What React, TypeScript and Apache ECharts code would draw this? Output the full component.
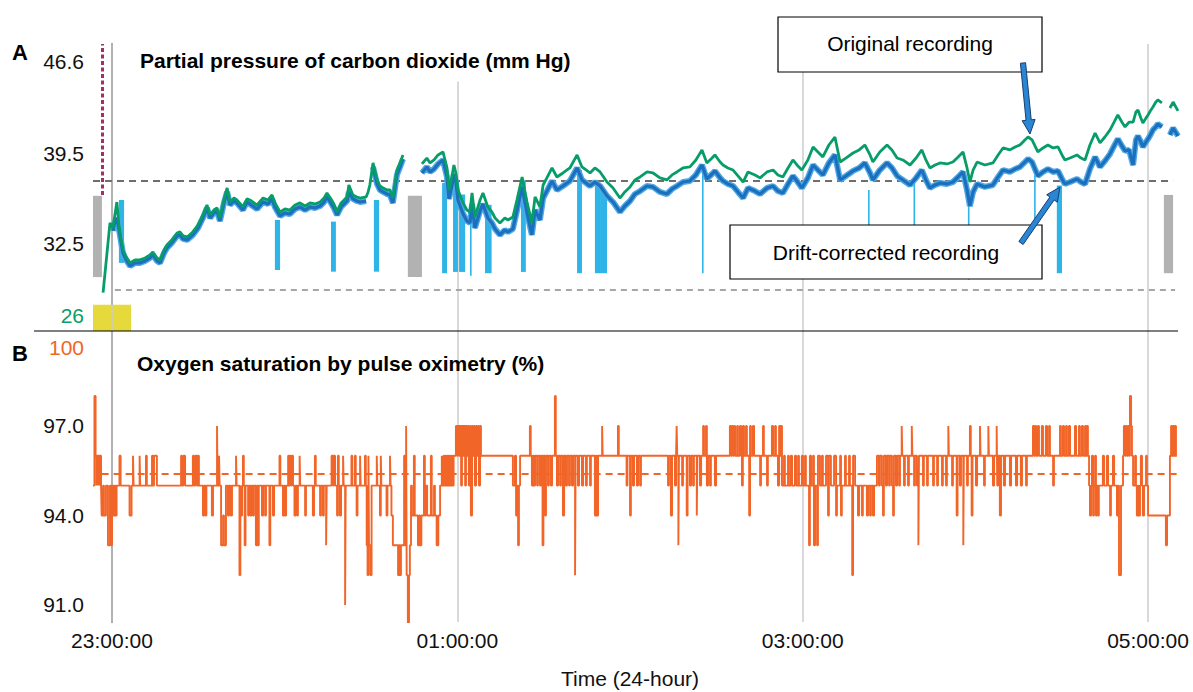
import React, { useEffect, useRef } from 'react';
import * as echarts from 'echarts';

// ---------- DATA (time = minutes relative to 23:00) ----------
const timeTickValues = [0, 120, 240, 360];
const co2TickValues = [26, 32.5, 39.5, 46.6];
const spo2TickValues = [91, 94, 97, 100];

// [minute, original PtcCO2, drift-corrected PtcCO2]
const co2Samples: (number | null)[][] = [
  [-3.1, 28.7, null], [-0.7, 34.1, null], [0.3, 33.71, 33.48], [1.0, 34.72, 34.17], [1.7, 35.72, 34.48],
  [2.4, 33.94, 33.63], [3.1, 32.93, 32.7], [3.8, 32.0, 31.77], [4.9, 31.46, 31.23], [6.3, 31.0, 30.76],
  [8.0, 31.23, 31.0], [9.7, 31.23, 31.0], [11.5, 31.38, 31.15], [13.2, 31.62, 31.38], [14.2, 31.85, 31.62],
  [15.6, 31.38, 31.15], [16.7, 31.23, 31.0], [18.1, 32.0, 31.77], [19.1, 32.39, 32.16], [20.8, 32.78, 32.55],
  [22.6, 33.32, 33.09], [23.6, 33.4, 33.17], [24.7, 33.09, 32.86], [26.1, 33.01, 32.78], [28.1, 33.4, 33.17],
  [29.9, 33.94, 33.71], [31.6, 34.72, 34.48], [33.0, 35.49, 35.26], [34.1, 34.72, 34.48], [35.4, 35.1, 34.87],
  [36.5, 35.26, 35.03], [37.5, 34.48, 34.25], [38.9, 35.88, 35.65], [40.0, 36.81, 36.5], [41.0, 35.72, 35.49],
  [42.4, 36.03, 35.8], [43.4, 35.88, 35.65], [45.5, 35.34, 35.1], [46.9, 35.96, 35.72], [47.9, 35.88, 35.57],
  [50.4, 35.49, 35.18], [52.5, 36.03, 35.72], [54.2, 35.88, 35.57], [55.6, 36.27, 35.96], [56.6, 35.65, 35.34],
  [58.4, 34.95, 34.64], [60.1, 35.18, 34.87], [61.8, 35.1, 34.79], [63.6, 35.49, 35.18], [65.3, 35.65, 35.34],
  [67.1, 35.41, 35.1], [68.8, 35.65, 35.34], [70.5, 35.57, 35.26], [72.3, 35.72, 35.41], [73.7, 36.03, 35.72],
  [74.7, 36.42, 36.11], [76.1, 35.96, 35.65], [77.1, 35.57, 35.26], [78.2, 34.95, 34.72], [79.6, 35.65, 35.34],
  [81.7, 36.11, 35.8], [82.3, 37.04, 36.5], [83.7, 36.27, 35.96], [85.1, 36.11, 35.8], [86.2, 36.03, 35.72],
  [88.3, 36.11, 35.8], [89.0, 36.5, null], [89.6, 37.04, null], [90.7, 38.75, 38.44], [92.1, 37.43, 37.12],
  [93.1, 36.96, 36.65], [94.2, 36.81, 36.5], [95.6, 36.65, 36.34], [96.6, 36.65, 36.27], [97.6, 36.03, 35.65],
  [99.0, 38.2, 37.82], [100.1, 38.75, 38.44], [101.1, 39.37, 39.06], [104.5, null, null],
  [107.7, 38.67, 37.97], [109.4, 39.13, 38.44], [110.5, 38.75, 38.05], [111.9, 38.98, 38.28], [113.3, 39.37, 38.67],
  [115.0, 39.6, 38.98], [116.4, 38.36, 37.66], [117.1, 36.65, 35.96], [118.1, 37.66, 36.96], [118.8, 38.59, 37.89],
  [119.5, 37.97, 37.27], [120.2, 36.65, 35.88], [122.0, 35.65, 34.79], [123.3, 35.1, 34.25], [124.4, 34.95, 34.1],
  [125.1, 36.42, 35.57], [126.1, 34.56, 33.71], [127.9, 35.88, 35.03], [128.9, 36.42, 35.57], [130.6, 35.34, 34.48],
  [132.0, 34.95, 34.1], [133.1, 34.48, 33.63], [134.8, 34.1, 33.17], [136.5, 34.48, 33.55], [137.6, 34.33, 33.4],
  [139.3, 34.56, 33.63], [140.7, 35.88, 35.03], [142.5, 37.66, 36.89], [144.2, 35.72, 34.87], [145.9, 34.1, 33.17],
  [147.0, 36.11, 35.1], [148.7, 35.34, 34.33], [149.8, 37.04, 36.03], [151.1, 37.59, 36.57], [152.9, 38.36, 37.35],
  [154.6, 37.66, 36.65], [156.7, 37.97, 36.96], [159.1, 38.36, 37.35], [161.6, 39.37, 38.36], [163.3, 38.44, 37.43],
  [166.1, 37.97, 36.96], [167.8, 38.36, 37.27], [169.6, 38.05, 36.96], [172.0, 37.27, 36.19], [174.1, 36.81, 35.72],
  [176.5, 36.03, 34.95], [178.2, 36.5, 35.41], [180.0, 36.89, 35.8], [181.7, 37.43, 36.34], [183.5, 37.66, 36.57],
  [185.9, 38.05, 36.96], [188.0, 37.97, 36.89], [190.4, 37.59, 36.5], [192.8, 37.43, 36.34], [194.6, 37.82, 36.73],
  [196.3, 38.05, 36.96], [198.4, 38.36, 37.27], [200.8, 38.44, 37.35], [202.9, 38.98, 37.82], [205.0, 39.76, 38.59],
  [206.7, 38.75, 37.51], [208.5, 39.13, 37.89], [209.5, 39.37, 38.13], [211.3, 38.82, 37.59], [212.3, 38.59, 37.35],
  [214.0, 38.36, 37.12], [215.8, 38.2, 36.96], [217.5, 37.74, 36.5], [219.3, 37.27, 36.03], [221.0, 38.05, 36.81],
  [223.4, 37.82, 36.57], [225.2, 37.59, 36.34], [227.6, 38.05, 36.81], [229.7, 38.2, 36.96], [231.4, 37.82, 36.57],
  [233.1, 37.66, 36.42], [234.9, 38.36, 37.12], [236.6, 38.98, 37.74], [238.0, 38.59, 37.35], [239.7, 38.2, 36.81],
  [241.8, 38.98, 37.59], [243.6, 39.99, 38.59], [245.3, 39.6, 38.2], [247.0, 39.21, 37.82], [249.1, 40.14, 38.75],
  [251.2, 40.76, 39.37], [253.0, 38.82, 37.43], [255.0, 39.13, 37.74], [257.5, 39.52, 38.13], [259.6, 39.76, 38.36],
  [261.6, 40.14, 38.75], [263.4, 39.37, 37.97], [264.4, 38.82, 37.43], [266.8, 39.6, 38.2], [269.3, 40.14, 38.75],
  [271.0, 39.76, 38.36], [272.8, 39.13, 37.74], [274.8, 38.98, 37.43], [277.3, 38.59, 37.04], [279.4, 39.13, 37.59],
  [281.4, 39.76, 38.2], [282.8, 38.98, 37.43], [284.2, 38.36, 36.81], [286.0, 38.59, 37.04], [287.7, 38.75, 37.2],
  [290.1, 38.67, 37.12], [292.2, 38.82, 37.27], [294.0, 39.21, 37.66], [295.7, 39.6, 38.05], [297.1, 38.36, 36.65],
  [298.1, 37.27, 35.41], [299.2, 38.2, 36.5], [300.6, 38.82, 37.12], [303.3, 38.59, 36.89], [306.1, 38.75, 37.04],
  [307.9, 39.37, 37.66], [309.6, 39.91, 38.2], [312.0, 39.76, 38.05], [313.8, 39.99, 38.28], [315.5, 40.14, 38.44],
  [317.2, 40.53, 38.82], [318.3, 40.76, 39.06], [319.7, 40.53, 38.82], [321.7, 39.6, 37.74], [323.5, 39.91, 38.05],
  [325.2, 40.14, 38.28], [327.0, 39.91, 38.05], [328.7, 39.99, 38.13], [330.1, 39.37, 37.51], [331.1, 38.98, 37.12],
  [332.9, 39.13, 37.27], [335.3, 39.37, 37.51], [336.7, 39.13, 37.27], [338.1, 38.98, 37.12], [339.8, 40.14, 38.28],
  [341.6, 41.07, 39.21], [343.3, 40.3, 38.44], [345.0, 40.76, 38.9], [346.8, 41.31, 39.45], [348.2, 41.92, 40.07],
  [349.5, 42.47, 40.61], [350.9, 41.92, 40.07], [352.0, 41.54, 39.68], [353.4, 41.92, 39.76], [354.8, 41.92, 38.59],
  [355.8, 42.7, 40.53], [356.5, 42.86, 40.84], [357.5, 42.24, 40.38], [358.2, 41.85, 39.99], [359.3, 42.24, 40.38],
  [360.0, 42.47, 40.61], [361.0, 42.86, 41.0], [361.7, 43.09, 41.31], [362.7, 43.47, 41.54], [363.4, 43.63, 41.77],
  [364.8, 43.4, 41.54], [366.2, null, null], [367.6, 43.01, 40.92], [368.7, 43.47, 41.46], [370.4, 42.78, 40.84],
];

// [minute, SpO2 %] – step changes
const spo2Steps: number[][] = [
  [-6.6,95],[-6.1,98],[-5.7,96],[-5.4,95],[-5.2,96],[-4.9,95],[-4.7,96],[-4.3,95],[-4.2,96],[-3.8,95],[-3.6,94],[-3.1,95],[-2.8,94],[-2.1,95],[-1.4,93],[-0.7,95],[-0.3,93],[0.0,95],[0.5,94],[0.9,95],[1.2,94],[1.6,95],[2.6,96],[3.0,95],[6.1,94],[6.8,95],[7.3,96],[7.5,95],[9.6,96],[9.8,95],[11.8,96],[12.1,95],[13.9,96],[14.2,95],[14.6,96],[15.6,95],[24.0,96],[24.3,95],[24.8,96],[25.4,95],[28.1,96],[28.5,95],[29.0,96],[29.5,95],[29.9,96],[30.2,95],[31.6,94],[32.0,95],[32.5,94],[32.8,95],[34.7,94],[35.1,95],[36.5,97],[36.7,95],[37.2,96],[37.4,95],[37.9,93],[38.6,94],[38.9,93],[39.6,95],[40.3,94],[40.7,95],[41.3,94],[41.7,95],[43.1,96],[43.3,95],[44.3,92],[44.6,95],[44.8,94],[45.2,95],[45.5,96],[45.8,95],[46.1,93],[46.4,95],[47.3,94],[47.6,95],[48.1,94],[48.5,95],[49.0,94],[49.3,95],[50.0,93],[50.4,95],[50.7,93],[51.0,95],[52.1,94],[52.5,95],[53.2,94],[53.5,95],[54.7,93],[55.0,95],[55.9,94],[56.3,95],[58.2,96],[58.5,95],[59.4,94],[59.8,95],[60.1,94],[60.5,95],[61.2,96],[61.5,95],[61.8,96],[62.2,95],[62.5,96],[62.9,95],[63.4,94],[63.8,95],[64.3,94],[64.6,95],[65.2,96],[65.4,95],[67.1,94],[67.4,95],[69.8,94],[70.2,95],[70.5,96],[70.8,95],[72.3,94],[72.6,95],[73.3,94],[73.6,95],[74.4,93],[74.6,95],[76.3,96],[76.8,95],[77.1,96],[77.5,95],[78.2,94],[78.5,96],[78.8,95],[79.2,94],[79.6,95],[80.3,96],[80.5,95],[81.0,91],[81.2,95],[83.2,96],[83.5,95],[84.4,96],[84.7,95],[85.0,94],[85.3,95],[86.2,96],[86.4,95],[87.9,96],[88.2,95],[88.5,93],[88.8,92],[89.1,96],[89.3,93],[89.8,92],[90.2,95],[92.0,96],[92.2,95],[93.1,94],[93.4,96],[93.6,95],[95.4,94],[95.7,95],[96.6,96],[96.8,95],[97.1,94],[97.6,93],[99.4,92],[99.7,93],[100.1,92],[100.4,93],[101.5,96],[101.8,93],[102.2,97],[102.4,92],[102.8,90],[103.2,92],[103.5,93],[103.9,95],[104.2,94],[104.9,96],[105.2,94],[106.3,93],[106.7,94],[107.0,93],[107.5,94],[108.4,96],[108.7,94],[109.1,95],[109.5,94],[110.8,96],[111.1,94],[111.9,95],[112.2,94],[112.8,93],[113.4,94],[114.0,95],[114.6,96],[114.8,95],[115.2,96],[115.5,95],[115.9,96],[116.2,95],[116.6,96],[116.9,95],[117.3,96],[117.6,95],[118.0,96],[118.3,95],[118.7,96],[119.5,97],[119.9,96],[120.2,97],[120.6,96],[120.9,97],[121.3,95],[121.6,97],[122.0,96],[122.3,97],[122.7,95],[123.0,97],[123.3,96],[123.7,97],[124.0,95],[124.4,97],[124.7,94],[125.1,97],[125.4,96],[125.8,97],[126.1,95],[126.5,97],[126.8,96],[127.2,97],[127.5,95],[127.9,97],[128.2,96],[139.3,95],[140.0,96],[140.4,94],[140.7,95],[141.1,93],[141.4,95],[141.8,96],[145.2,97],[145.5,96],[145.9,95],[146.3,96],[146.6,95],[147.0,96],[147.7,95],[148.0,96],[148.7,95],[149.1,96],[149.6,93],[149.9,96],[150.5,94],[150.8,96],[151.5,95],[151.8,96],[152.5,95],[152.9,96],[153.9,98],[154.2,96],[154.6,95],[155.0,96],[155.7,95],[156.0,96],[156.7,94],[157.1,96],[157.7,95],[158.1,96],[158.8,95],[159.1,96],[159.8,95],[160.2,96],[160.9,92],[161.1,96],[161.9,95],[162.3,96],[163.3,95],[163.7,96],[164.7,95],[165.0,96],[166.1,95],[166.4,96],[167.8,94],[168.2,96],[168.5,94],[168.9,96],[170.3,97],[170.5,96],[175.8,97],[176.1,96],[178.8,95],[179.1,96],[180.0,94],[180.3,96],[181.0,95],[181.4,96],[182.4,95],[182.8,96],[183.5,95],[183.8,96],[193.2,95],[193.5,96],[194.2,94],[194.6,96],[195.6,95],[196.0,96],[196.2,97],[196.4,96],[196.8,93],[197.0,96],[198.1,95],[198.4,96],[199.7,94],[200.0,96],[200.8,95],[201.2,96],[201.9,95],[202.2,96],[203.2,94],[203.4,96],[204.3,95],[204.7,96],[205.4,97],[205.7,96],[206.4,97],[206.7,95],[207.1,96],[207.8,95],[208.1,96],[209.5,95],[209.9,96],[214.7,97],[215.1,96],[215.4,97],[215.8,96],[216.1,97],[216.5,96],[217.2,97],[217.5,96],[218.2,97],[218.6,96],[218.9,95],[219.2,97],[219.6,96],[220.3,97],[220.6,96],[221.4,94],[221.7,97],[222.0,96],[222.7,97],[223.1,96],[225.2,95],[225.5,96],[226.2,97],[226.5,96],[227.6,95],[227.9,96],[229.3,97],[229.7,96],[230.4,97],[230.7,96],[231.4,95],[231.8,97],[232.1,96],[232.4,97],[232.8,95],[233.5,96],[233.8,95],[234.9,96],[235.2,95],[235.9,96],[236.3,95],[237.3,96],[237.7,95],[238.4,96],[238.7,95],[239.7,96],[240.1,95],[240.8,96],[241.1,95],[242.2,93],[242.5,96],[242.9,95],[243.6,96],[243.9,93],[244.3,95],[245.0,93],[245.3,96],[246.0,95],[246.7,96],[247.0,95],[248.1,96],[248.8,94],[249.1,96],[249.8,95],[250.9,96],[251.6,94],[251.9,95],[253.0,96],[253.3,94],[253.6,95],[254.7,96],[255.0,95],[256.1,96],[256.4,95],[257.2,92],[257.5,96],[258.2,95],[259.2,94],[259.6,95],[260.6,94],[260.9,95],[262.3,94],[262.7,95],[263.4,94],[263.7,95],[264.4,94],[264.8,95],[265.8,96],[266.5,95],[266.8,96],[267.5,95],[267.9,94],[268.2,96],[268.9,95],[269.3,96],[270.0,95],[270.3,96],[271.0,95],[271.4,94],[271.7,96],[272.4,95],[272.8,96],[273.5,95],[273.8,96],[274.4,97],[274.6,96],[275.2,95],[275.5,96],[276.6,95],[276.9,96],[277.9,97],[278.1,96],[278.7,95],[279.0,96],[279.7,95],[280.2,93],[280.4,96],[281.8,95],[282.1,96],[283.2,95],[283.5,96],[285.3,95],[285.6,96],[286.7,95],[287.0,96],[288.4,95],[288.7,96],[289.8,95],[290.1,96],[290.6,97],[290.8,96],[291.9,95],[292.2,96],[293.5,94],[293.8,96],[294.6,95],[295.0,96],[295.8,93],[296.0,96],[297.1,95],[297.4,96],[298.1,97],[298.4,96],[298.7,94],[299.0,96],[300.2,95],[300.6,96],[301.6,97],[301.8,96],[303.0,95],[303.3,96],[304.5,97],[304.7,96],[306.1,95],[306.5,96],[307.4,97],[307.6,95],[307.9,96],[308.5,94],[308.9,96],[309.9,95],[310.3,96],[312.0,95],[312.4,96],[314.1,95],[314.5,96],[315.8,95],[316.2,96],[317.6,95],[317.9,96],[320.0,97],[320.4,96],[320.7,97],[321.1,96],[321.7,97],[322.1,96],[323.1,97],[323.5,96],[324.5,97],[324.9,96],[325.6,97],[325.9,96],[327.0,95],[327.3,96],[329.4,97],[329.7,96],[330.4,97],[330.8,96],[331.5,97],[331.8,96],[332.5,97],[332.9,96],[334.6,97],[335.0,96],[336.0,97],[336.3,96],[337.0,97],[337.4,96],[338.1,97],[338.4,96],[338.8,97],[339.1,96],[339.5,95],[339.8,94],[340.2,95],[340.5,96],[340.9,94],[341.2,95],[341.6,96],[341.9,94],[342.2,95],[342.6,94],[342.9,95],[344.3,96],[344.7,95],[345.7,96],[346.1,95],[346.8,94],[347.1,95],[347.8,96],[348.2,95],[349.2,94],[349.5,95],[349.9,92],[350.6,95],[351.3,96],[351.6,97],[352.0,96],[352.3,97],[352.7,96],[353.0,97],[353.4,96],[353.7,98],[354.1,97],[354.4,96],[354.8,95],[355.5,96],[355.8,95],[356.1,94],[356.5,95],[356.8,94],[357.2,95],[357.5,96],[357.9,95],[358.2,94],[358.6,95],[359.3,96],[359.6,95],[360.0,94],[366.2,93],[366.6,94],[367.6,96],[368.0,97],[368.3,96],[368.7,97],[369.0,96],[369.4,97],[369.7,96],[370.0,96],
];

// [startMin, endMin, topValue, bottomValue] – artefact periods (light blue)
const artifactSpans = [
  [2.4, 4.2, 35.88, 31.0], [56.6, 58.4, 34.33, 30.45], [76.1, 77.8, 34.2, 30.32], [91.0, 92.8, 35.88, 30.32],
  [114.7, 116.4, 37.2, 30.2], [118.5, 120.2, 37.6, 30.3], [120.6, 122.7, 36.3, 30.3], [124.4, 124.9, 35.5, 30.0],
  [129.6, 131.9, 35.5, 30.2], [142.1, 143.8, 37.4, 30.3], [161.6, 163.3, 38.2, 30.2], [167.8, 169.9, 37.2, 30.2],
  [169.9, 172.0, 36.5, 30.2], [205.0, 205.5, 38.6, 30.2], [262.7, 263.2, 36.65, 30.3], [278.5, 279.0, 37.4, 30.3],
  [297.4, 297.9, 35.5, 29.7], [320.4, 320.9, 37.8, 30.3], [328.3, 330.1, 37.0, 30.2],
];
// calibration periods (grey)
const calibrationSpans = [
  [-6.6, -3.5, 36.2, 29.9], [102.8, 107.7, 36.2, 29.9], [365.5, 368.7, 36.27, 30.2],
];
// sensor warm-up (yellow)
const warmupSpans = [[-6.6, 6.6, 27.75, 25.72]];
const eventMarkerMinute = -3.5;
const eventMarkerFrom = 36.27;
const co2UpperRef = 37.4;
const co2LowerRef = 28.9;
const spo2MeanRef = 95.4;

const X_MIN = -6.6;
const X_MAX = 371.1;
const CO2_MIN = 25.72;
const CO2_MAX = 47.97;
const SPO2_MIN = 90.43;
const SPO2_MAX = 100.18;

// ---------- STYLE ----------
const FONT = '"Liberation Sans", Arial, Helvetica, sans-serif';
const GREEN = '#079d68';
const BLUE_CORE = '#1b6fbd';
const BLUE_HALO = '#4ea8e4';
const ART_BLUE = '#2fb4e8';
const ORANGE = '#f26528';

const fmtTime = (v: number) => {
  const total = Math.round(((23 * 60 + v) % 1440 + 1440) % 1440);
  const h = Math.floor(total / 60);
  const m = total % 60;
  return `${String(h).padStart(2, '0')}:${String(m).padStart(2, '0')}:00`;
};

const rectRenderer = (color: string) => (params: any, api: any) => {
  const p0 = api.coord([api.value(0), api.value(2)]);
  const p1 = api.coord([api.value(1), api.value(3)]);
  return {
    type: 'rect',
    shape: { x: p0[0], y: p0[1], width: Math.max(p1[0] - p0[0], 1.6), height: p1[1] - p0[1] },
    style: { fill: color },
  };
};

const arrowPolygon = (tail: number[], tip: number[]) => {
  const dx = tip[0] - tail[0];
  const dy = tip[1] - tail[1];
  const len = Math.hypot(dx, dy);
  const ux = dx / len, uy = dy / len;
  const nx = -uy, ny = ux;
  const sw = 2.6, hw = 6.5, hl = 14;
  const bx = tip[0] - ux * hl, by = tip[1] - uy * hl;
  return [
    [tail[0] + nx * sw, tail[1] + ny * sw],
    [bx + nx * sw, by + ny * sw],
    [bx + nx * hw, by + ny * hw],
    [tip[0], tip[1]],
    [bx - nx * hw, by - ny * hw],
    [bx - nx * sw, by - ny * sw],
    [tail[0] - nx * sw, tail[1] - ny * sw],
  ];
};

function buildOption() {
  const original = co2Samples.map((r) => [r[0], r[1]]);
  const corrected = co2Samples.map((r) => [r[0], r[2]]);
  const gridLines = (z: number) => ({
    silent: true,
    symbol: ['none', 'none'],
    label: { show: false },
    z,
    lineStyle: { color: '#cccccc', width: 1.5, type: 'solid' },
    data: timeTickValues.map((v) => ({ xAxis: v })),
  });
  return {
    animation: false,
    textStyle: { fontFamily: FONT },
    grid: [
      { left: 93, top: 44, width: 1087, height: 287 },
      { left: 93, top: 331, width: 1087, height: 291 },
    ],
    xAxis: [
      {
        type: 'value', gridIndex: 0, min: X_MIN, max: X_MAX,
        axisLine: { show: false }, axisTick: { show: false }, axisLabel: { show: false }, splitLine: { show: false },
      },
      {
        type: 'value', gridIndex: 1, min: X_MIN, max: X_MAX,
        axisLine: { show: false }, axisTick: { show: false }, splitLine: { show: false },
        axisLabel: { customValues: timeTickValues, formatter: fmtTime, fontSize: 21, color: '#111', margin: 8, fontFamily: FONT },
        name: 'Time (24-hour)', nameLocation: 'middle', nameGap: 46,
        nameTextStyle: { fontSize: 21, color: '#111', fontFamily: FONT, padding: [0, 13, 0, 0] },
      },
    ],
    yAxis: [
      {
        type: 'value', gridIndex: 0, min: CO2_MIN, max: CO2_MAX,
        axisLine: { show: true, lineStyle: { color: '#333', width: 1.5 } },
        axisTick: { show: false }, splitLine: { show: false },
        axisLabel: {
          customValues: co2TickValues,
          formatter: (v: number) => (v === 26 ? '{g|26}' : v.toFixed(1)),
          fontSize: 21, color: '#111', margin: 9, fontFamily: FONT,
          rich: { g: { color: GREEN, fontSize: 21, fontFamily: FONT, padding: [0, 0, 24, 0] } },
        },
      },
      {
        type: 'value', gridIndex: 1, min: SPO2_MIN, max: SPO2_MAX,
        axisLine: { show: true, lineStyle: { color: '#333', width: 1.5 } },
        axisTick: { show: false }, splitLine: { show: false },
        axisLabel: {
          customValues: spo2TickValues,
          formatter: (v: number) => (v === 100 ? '{o|100}' : v.toFixed(1)),
          fontSize: 21, color: '#111', margin: 9, fontFamily: FONT,
          rich: { o: { color: ORANGE, fontSize: 21, fontFamily: FONT, padding: [22, 0, 0, 0] } },
        },
      },
    ],
    series: [
      // grid lines panel A
      { type: 'line', xAxisIndex: 0, yAxisIndex: 0, data: [], z: 1, markLine: gridLines(2.5) },
      // grid lines panel B
      { type: 'line', xAxisIndex: 1, yAxisIndex: 1, data: [], z: 1, markLine: gridLines(2.5) },
      {
        type: 'custom', name: 'Warm-up', xAxisIndex: 0, yAxisIndex: 0, z: 2, silent: true,
        encode: { x: [0, 1], y: [2, 3] }, renderItem: rectRenderer('#e6d93c'), data: warmupSpans,
      },
      {
        type: 'custom', name: 'Calibration', xAxisIndex: 0, yAxisIndex: 0, z: 2, silent: true,
        encode: { x: [0, 1], y: [2, 3] }, renderItem: rectRenderer('#b2b2b2'), data: calibrationSpans,
      },
      {
        type: 'custom', name: 'Artefact', xAxisIndex: 0, yAxisIndex: 0, z: 3, silent: true,
        encode: { x: [0, 1], y: [2, 3] }, renderItem: rectRenderer(ART_BLUE), data: artifactSpans,
        markLine: {
          silent: true, symbol: ['none', 'none'], label: { show: false }, z: 3,
          data: [
            [
              { coord: [X_MIN, co2UpperRef], lineStyle: { color: '#6e6e6e', width: 2, type: [7, 5] } },
              { coord: [368.7, co2UpperRef] },
            ],
            [
              { coord: [1.0, co2LowerRef], lineStyle: { color: '#a6a6a6', width: 2, type: [6, 5] } },
              { coord: [369.4, co2LowerRef] },
            ],
            [
              { coord: [eventMarkerMinute, eventMarkerFrom], lineStyle: { color: '#a3306a', width: 3, type: [4, 2.5] } },
              { coord: [eventMarkerMinute, CO2_MAX] },
            ],
          ],
        },
      },
      {
        type: 'line', name: 'Drift-corrected halo', xAxisIndex: 0, yAxisIndex: 0, z: 4, silent: true,
        data: corrected, showSymbol: false, connectNulls: false,
        lineStyle: { color: BLUE_HALO, width: 6 },
      },
      {
        type: 'line', name: 'Drift-corrected recording', xAxisIndex: 0, yAxisIndex: 0, z: 5, silent: true,
        data: corrected, showSymbol: false, connectNulls: false,
        lineStyle: { color: BLUE_CORE, width: 3.2 },
      },
      {
        type: 'line', name: 'Original recording', xAxisIndex: 0, yAxisIndex: 0, z: 6, silent: true,
        data: original, showSymbol: false, connectNulls: false,
        lineStyle: { color: GREEN, width: 2.8 },
      },
      {
        type: 'line', name: 'SpO2', xAxisIndex: 1, yAxisIndex: 1, z: 4, silent: true,
        data: spo2Steps, step: 'end', showSymbol: false,
        lineStyle: { color: ORANGE, width: 1.9 },
        markLine: {
          silent: true, symbol: ['none', 'none'], label: { show: false }, z: 3,
          data: [[
            { coord: [-3.6, spo2MeanRef], lineStyle: { color: ORANGE, width: 2, type: [7, 5] } },
            { coord: [370.0, spo2MeanRef] },
          ]],
        },
      },
    ],
    graphic: [
      { type: 'line', z: 50, shape: { x1: 34, y1: 331, x2: 1178, y2: 331 }, style: { stroke: '#000', lineWidth: 1.2 } },
      { type: 'text', z: 50, x: 12, y: 52, style: { text: 'A', fontSize: 22, fontWeight: 'bold', fontFamily: FONT, fill: '#000', verticalAlign: 'middle' } },
      { type: 'text', z: 50, x: 12, y: 353, style: { text: 'B', fontSize: 22, fontWeight: 'bold', fontFamily: FONT, fill: '#000', verticalAlign: 'middle' } },
      {
        type: 'text', z: 50, x: 137, y: 60,
        style: {
          text: 'Partial pressure of carbon dioxide (mm Hg)', fontSize: 21, fontWeight: 'bold', fontFamily: FONT,
          fill: '#000', verticalAlign: 'middle', backgroundColor: '#fff', padding: [14, 3, 8, 3],
        },
      },
      {
        type: 'text', z: 50, x: 137, y: 363,
        style: { text: 'Oxygen saturation by pulse oximetry (%)', fontSize: 21, fontWeight: 'bold', fontFamily: FONT, fill: '#000', verticalAlign: 'middle' },
      },
      { type: 'rect', z: 60, shape: { x: 778, y: 17, width: 264, height: 55 }, style: { fill: '#fff', stroke: '#000', lineWidth: 1.2 } },
      { type: 'text', z: 61, x: 910, y: 43, style: { text: 'Original recording', fontSize: 21, fontFamily: FONT, fill: '#000', align: 'center', verticalAlign: 'middle' } },
      { type: 'rect', z: 60, shape: { x: 730, y: 225, width: 312, height: 54 }, style: { fill: '#fff', stroke: '#000', lineWidth: 1.2 } },
      { type: 'text', z: 61, x: 886, y: 252, style: { text: 'Drift-corrected recording', fontSize: 21, fontFamily: FONT, fill: '#000', align: 'center', verticalAlign: 'middle' } },
      { type: 'polygon', z: 62, shape: { points: arrowPolygon([1023, 63], [1030, 134]) }, style: { fill: '#2a86d2', stroke: '#163f73', lineWidth: 1 } },
      { type: 'polygon', z: 62, shape: { points: arrowPolygon([1021, 243], [1060, 187]) }, style: { fill: '#2a86d2', stroke: '#163f73', lineWidth: 1 } },
    ],
  };
}

export default function App() {
  const ref = useRef<HTMLDivElement>(null);
  useEffect(() => {
    if (!ref.current) return;
    const chart = echarts.init(ref.current, null, { renderer: 'svg' });
    chart.setOption(buildOption() as any);
    return () => chart.dispose();
  }, []);
  return (
    <div
      ref={ref}
      style={{ position: 'fixed', left: 0, top: 0, width: 1193, height: 692, background: '#fff' }}
    />
  );
}
